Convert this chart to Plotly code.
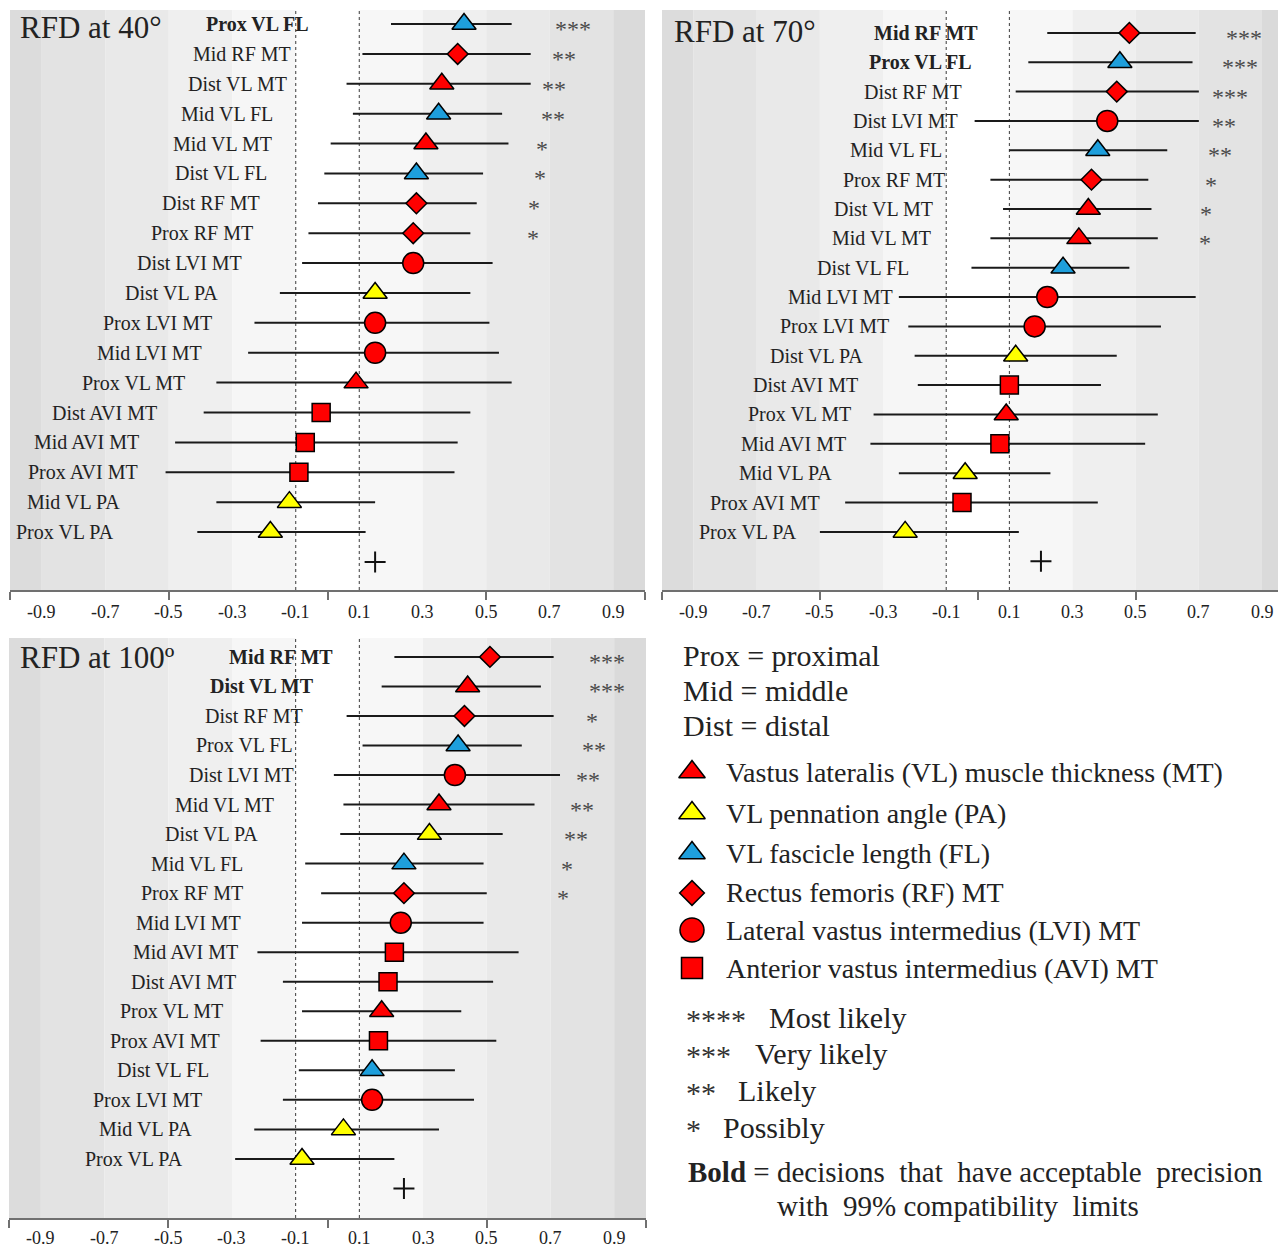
import plotly.graph_objects as go

REF_W, REF_H = 1286, 1250
OFF = 8                      # page body margin of the browser
W, H = REF_W - OFF, REF_H - OFF
SERIF = "Liberation Serif"
TXT = "#222222"

# ------------------------------------------------------------------ data
# RFD at 40 degrees
labels_40 = ["Prox VL FL", "Mid RF MT", "Dist VL MT", "Mid VL FL", "Mid VL MT", "Dist VL FL",
             "Dist RF MT", "Prox RF MT", "Dist LVI MT", "Dist VL PA", "Prox LVI MT", "Mid LVI MT",
             "Prox VL MT", "Dist AVI MT", "Mid AVI MT", "Prox AVI MT", "Mid VL PA", "Prox VL PA"]
est_40 = [0.43, 0.41, 0.36, 0.35, 0.31, 0.28, 0.28, 0.27, 0.27, 0.15, 0.15, 0.15,
          0.09, -0.02, -0.07, -0.09, -0.12, -0.18]
lo_40 = [0.20, 0.11, 0.06, 0.08, 0.01, -0.01, -0.03, -0.06, -0.08, -0.15, -0.23, -0.25,
         -0.35, -0.39, -0.48, -0.51, -0.35, -0.41]
hi_40 = [0.58, 0.64, 0.64, 0.55, 0.57, 0.49, 0.47, 0.45, 0.52, 0.45, 0.51, 0.54,
         0.58, 0.45, 0.41, 0.40, 0.15, 0.12]
stars_40 = ["***", "**", "**", "**", "*", "*", "*", "*"]
bold_40 = ["Prox VL FL"]
mean_40 = 0.15

# RFD at 70 degrees
labels_70 = ["Mid RF MT", "Prox VL FL", "Dist RF MT", "Dist LVI MT", "Mid VL FL", "Prox RF MT",
             "Dist VL MT", "Mid VL MT", "Dist VL FL", "Mid LVI MT", "Prox LVI MT", "Dist VL PA",
             "Dist AVI MT", "Prox VL MT", "Mid AVI MT", "Mid VL PA", "Prox AVI MT", "Prox VL PA"]
est_70 = [0.48, 0.45, 0.44, 0.41, 0.38, 0.36, 0.35, 0.32, 0.27, 0.22, 0.18, 0.12,
          0.10, 0.09, 0.07, -0.04, -0.05, -0.23]
lo_70 = [0.22, 0.16, 0.12, -0.01, 0.10, 0.04, 0.08, 0.04, -0.02, -0.25, -0.22, -0.20,
         -0.19, -0.33, -0.34, -0.25, -0.42, -0.50]
hi_70 = [0.69, 0.68, 0.70, 0.70, 0.60, 0.54, 0.55, 0.57, 0.48, 0.69, 0.58, 0.44,
         0.39, 0.57, 0.53, 0.23, 0.38, 0.13]
stars_70 = ["***", "***", "***", "**", "**", "*", "*", "*"]
bold_70 = ["Mid RF MT", "Prox VL FL"]
mean_70 = 0.20

# RFD at 100 degrees
labels_100 = ["Mid RF MT", "Dist VL MT", "Dist RF MT", "Prox VL FL", "Dist LVI MT", "Mid VL MT",
              "Dist VL PA", "Mid VL FL", "Prox RF MT", "Mid LVI MT", "Mid AVI MT", "Dist AVI MT",
              "Prox VL MT", "Prox AVI MT", "Dist VL FL", "Prox LVI MT", "Mid VL PA", "Prox VL PA"]
est_100 = [0.51, 0.44, 0.43, 0.41, 0.40, 0.35, 0.32, 0.24, 0.24, 0.23, 0.21, 0.19,
           0.17, 0.16, 0.14, 0.14, 0.05, -0.08]
lo_100 = [0.21, 0.17, 0.06, 0.11, 0.02, 0.05, 0.04, -0.07, -0.02, -0.08, -0.22, -0.14,
          -0.08, -0.21, -0.09, -0.14, -0.23, -0.29]
hi_100 = [0.71, 0.67, 0.71, 0.61, 0.73, 0.65, 0.55, 0.49, 0.50, 0.49, 0.60, 0.52,
          0.42, 0.53, 0.40, 0.46, 0.35, 0.21]
stars_100 = ["***", "***", "*", "**", "**", "**", "**", "*", "*"]
bold_100 = ["Mid RF MT", "Dist VL MT"]
mean_100 = 0.24

tick_values = [-0.9, -0.7, -0.5, -0.3, -0.1, 0.1, 0.3, 0.5, 0.7, 0.9]
tick_labels = ["-0.9", "-0.7", "-0.5", "-0.3", "-0.1", "0.1", "0.3", "0.5", "0.7", "0.9"]

legend_items = ["Vastus lateralis (VL) muscle thickness (MT)", "VL pennation angle (PA)",
                "VL fascicle length (FL)", "Rectus femoris (RF) MT",
                "Lateral vastus intermedius (LVI) MT", "Anterior vastus intermedius (AVI) MT"]
legend_keys = ["VL MT", "VL PA", "VL FL", "RF MT", "LVI MT", "AVI MT"]
abbrev_lines = ["Prox = proximal", "Mid = middle", "Dist = distal"]
star_keys = ["****", "***", "**", "*"]
star_meaning = ["Most likely", "Very likely", "Likely", "Possibly"]

# ------------------------------------------------------------------ styles / layout
RED, YELLOW, BLUE = "#ff0000", "#ffff00", "#1e9fdc"
MEASURE_STYLE = {"VL MT": ("triangle-up", RED), "VL PA": ("triangle-up", YELLOW),
                 "VL FL": ("triangle-up", BLUE), "RF MT": ("diamond", RED),
                 "LVI MT": ("circle", RED), "AVI MT": ("square", RED)}
SIZE = {"triangle-up": 21, "diamond": 16, "circle": 21, "square": 18}
LEG_SIZE = {"triangle-up": 23, "diamond": 19, "circle": 24, "square": 21}

BANDS = [(-1.0, -0.9, "#dcdcdc"), (-0.9, -0.7, "#e3e3e3"), (-0.7, -0.5, "#e9e9e9"),
         (-0.5, -0.3, "#efefef"), (-0.3, -0.1, "#f6f6f6"), (-0.1, 0.1, "#ffffff"),
         (0.1, 0.3, "#f7f7f7"), (0.3, 0.5, "#efefef"), (0.5, 0.7, "#e9e9e9"),
         (0.7, 0.9, "#e3e3e3"), (0.9, 1.0, "#dadada")]

# label right-edge x positions and star x positions (layout, in axis units)
LABEL_X_40 = [-0.051, -0.108, -0.120, -0.165, -0.168, -0.184, -0.206, -0.228, -0.263, -0.339,
              -0.358, -0.389, -0.443, -0.532, -0.587, -0.592, -0.646, -0.665]
LABEL_X_70 = [0.006, -0.013, -0.045, -0.057, -0.108, -0.098, -0.134, -0.142, -0.210, -0.261,
              -0.274, -0.356, -0.372, -0.394, -0.410, -0.455, -0.492, -0.566]
LABEL_X_100 = [0.024, -0.035, -0.071, -0.101, -0.098, -0.162, -0.212, -0.258, -0.258, -0.264,
               -0.275, -0.281, -0.323, -0.332, -0.365, -0.389, -0.418, -0.448]
STAR_X_40 = [0.772, 0.744, 0.714, 0.709, 0.677, 0.668, 0.649, 0.646]
STAR_X_70 = [0.842, 0.831, 0.800, 0.780, 0.768, 0.738, 0.723, 0.719]
STAR_X_100 = [0.878, 0.876, 0.831, 0.838, 0.819, 0.800, 0.779, 0.753, 0.740]


def px(x):
    return (x - OFF) / W


def py(y):
    return 1 - (y - OFF) / H


panels = [
    dict(title="RFD at 40°", labels=labels_40, est=est_40, lo=lo_40, hi=hi_40, stars=stars_40,
         bold=bold_40, mean=mean_40, lx=LABEL_X_40, sx=STAR_X_40,
         xpx=(10, 645), ypx=(10, 590), xr=(-1, 1), yr=(18.94, -0.47),
         tpos=(18, 28), ticky=612),
    dict(title="RFD at 70°", labels=labels_70, est=est_70, lo=lo_70, hi=hi_70, stars=stars_70,
         bold=bold_70, mean=mean_70, lx=LABEL_X_70, sx=STAR_X_70,
         xpx=(662, 1286), ypx=(10, 590), xr=(-1, 0.976), yr=(18.98, -0.78),
         tpos=(672, 32), ticky=612),
    dict(title="RFD at 100º", labels=labels_100, est=est_100, lo=lo_100, hi=hi_100, stars=stars_100,
         bold=bold_100, mean=mean_100, lx=LABEL_X_100, sx=STAR_X_100,
         xpx=(9, 646), ypx=(638, 1218), xr=(-1, 1), yr=(19.0, -0.64),
         tpos=(18, 657), ticky=1238),
]

fig = go.Figure()
shapes, annotations = [], []
layout_axes = {}

for i, p in enumerate(panels, start=1):
    s = "" if i == 1 else str(i)
    xref, yref = "x" + s, "y" + s
    n = len(p["labels"])
    rows = list(range(n))

    layout_axes["xaxis" + s] = dict(
        domain=[px(p["xpx"][0]), min(1, px(p["xpx"][1]))], range=list(p["xr"]), anchor=yref,
        showline=True, linecolor="#707070", linewidth=1.5, ticks="outside",
        tickmode="array", tickvals=[-1, -0.5, 0, 0.5, 1], ticklen=8, tickwidth=1.5,
        tickcolor="#707070", showticklabels=False, showgrid=False, zeroline=False,
        fixedrange=True)
    layout_axes["yaxis" + s] = dict(
        domain=[py(p["ypx"][1]), py(p["ypx"][0])], range=list(p["yr"]), anchor=xref,
        visible=False, fixedrange=True)

    # background bands
    for x0, x1, col in BANDS:
        shapes.append(dict(type="rect", xref=xref, yref=yref + " domain",
                           x0=max(x0, p["xr"][0]), x1=min(x1, p["xr"][1]), y0=0, y1=1,
                           fillcolor=col, line=dict(width=0), layer="below"))
    for xv in (-0.1, 0.1):
        shapes.append(dict(type="line", xref=xref, yref=yref + " domain", x0=xv, x1=xv,
                           y0=0, y1=1, line=dict(color="#3a3a3a", width=1, dash="3px,3px"),
                           layer="below"))

    # compatibility limits
    cx, cy = [], []
    for k in rows:
        cx += [p["lo"][k], p["hi"][k], None]
        cy += [k, k, None]
    fig.add_trace(go.Scatter(x=cx, y=cy, mode="lines", xaxis=xref, yaxis=yref,
                             line=dict(color="#1a1a1a", width=2), hoverinfo="skip",
                             showlegend=False))

    # point estimates grouped by measure
    for key, (sym, col) in MEASURE_STYLE.items():
        idx = [k for k in rows if p["labels"][k].split(" ", 1)[1] == key]
        if not idx:
            continue
        fig.add_trace(go.Scatter(
            x=[p["est"][k] for k in idx], y=idx, mode="markers", xaxis=xref, yaxis=yref,
            marker=dict(symbol=sym, size=SIZE[sym], color=col,
                        line=dict(color="#000000", width=1.5)),
            text=[p["labels"][k] for k in idx], hoverinfo="text+x", showlegend=False))

    # mean marker (+)
    fig.add_trace(go.Scatter(x=[p["mean"]], y=[n], mode="markers", xaxis=xref, yaxis=yref,
                             marker=dict(symbol="cross-thin", size=15,
                                         line=dict(color="#111111", width=2)),
                             hoverinfo="x", showlegend=False))

    # row labels
    for k in rows:
        lab = p["labels"][k]
        txt = "<b>%s</b>" % lab if lab in p["bold"] else lab
        annotations.append(dict(x=p["lx"][k], y=k, xref=xref, yref=yref, text=txt,
                                xanchor="right", yanchor="middle", showarrow=False,
                                font=dict(family=SERIF, size=20, color=TXT)))
    # stars
    for k, st in enumerate(p["stars"]):
        annotations.append(dict(x=p["sx"][k], y=k, xref=xref, yref=yref, text=st,
                                xanchor="center", yanchor="middle", yshift=-5, showarrow=False,
                                font=dict(family=SERIF, size=24, color="#4a4a4a")))
    # tick labels
    for v, t in zip(tick_values, tick_labels):
        annotations.append(dict(x=v, y=py(p["ticky"]), xref=xref, yref="paper", text=t,
                                xanchor="center", yanchor="middle", showarrow=False,
                                font=dict(family=SERIF, size=18, color=TXT)))
    # panel title
    annotations.append(dict(x=px(p["tpos"][0]), y=py(p["tpos"][1]), xref="paper", yref="paper",
                            text=p["title"], xanchor="left", yanchor="middle", showarrow=False,
                            font=dict(family=SERIF, size=31, color=TXT)))

# ------------------------------------------------------------------ key panel
layout_axes["xaxis4"] = dict(domain=[px(662), 1], range=[662, REF_W], anchor="y4",
                             visible=False, fixedrange=True)
layout_axes["yaxis4"] = dict(domain=[0, py(630)], range=[REF_H, 630], anchor="x4",
                             visible=False, fixedrange=True)

ABBREV_Y = [655, 690, 725]
for t, yy in zip(abbrev_lines, ABBREV_Y):
    annotations.append(dict(x=px(681), y=py(yy), xref="paper", yref="paper", text=t,
                            xanchor="left", yanchor="middle", showarrow=False,
                            font=dict(family=SERIF, size=30, color=TXT)))

ITEM_Y = [772, 813, 853, 893, 930, 968]
for t, key, yy in zip(legend_items, legend_keys, ITEM_Y):
    sym, col = MEASURE_STYLE[key]
    fig.add_trace(go.Scatter(x=[692], y=[yy], mode="markers", xaxis="x4", yaxis="y4",
                             marker=dict(symbol=sym, size=LEG_SIZE[sym], color=col,
                                         line=dict(color="#000000", width=1.5)),
                             hoverinfo="skip", showlegend=False))
    annotations.append(dict(x=px(724), y=py(yy), xref="paper", yref="paper", text=t,
                            xanchor="left", yanchor="middle", showarrow=False,
                            font=dict(family=SERIF, size=28, color=TXT)))

STAR_Y = [1017, 1053, 1090, 1127]
STAR_TEXT_X = [767, 753, 736, 721]
for st, meaning, yy, tx in zip(star_keys, star_meaning, STAR_Y, STAR_TEXT_X):
    annotations.append(dict(x=px(684), y=py(yy), xref="paper", yref="paper", text=st,
                            xanchor="left", yanchor="middle", yshift=-2, showarrow=False,
                            font=dict(family=SERIF, size=30, color="#333333")))
    annotations.append(dict(x=px(tx), y=py(yy), xref="paper", yref="paper", text=meaning,
                            xanchor="left", yanchor="middle", showarrow=False,
                            font=dict(family=SERIF, size=30, color=TXT)))

NB = "\u00a0"
annotations.append(dict(x=px(686), y=py(1172), xref="paper", yref="paper",
                        text="<b>Bold</b> = decisions " + NB + "that " + NB + "have acceptable "
                             + NB + "precision",
                        xanchor="left", yanchor="middle", showarrow=False,
                        font=dict(family=SERIF, size=29, color=TXT)))
annotations.append(dict(x=px(775), y=py(1206), xref="paper", yref="paper",
                        text="with " + NB + "99% compatibility " + NB + "limits",
                        xanchor="left", yanchor="middle", showarrow=False,
                        font=dict(family=SERIF, size=29, color=TXT)))

fig.update_layout(width=W, height=H, margin=dict(l=0, r=0, t=0, b=0),
                  paper_bgcolor="white", plot_bgcolor="white", showlegend=False,
                  shapes=shapes, annotations=annotations, **layout_axes)

fig.write_html("out.html")
